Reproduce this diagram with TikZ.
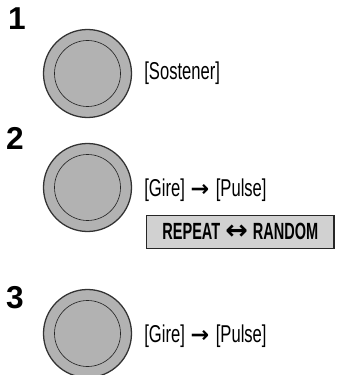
\documentclass[tikz,border=0pt]{standalone}
\usepackage{fontspec}
\setmainfont{Liberation Sans}
\newfontfamily\narrowfont[FakeStretch=0.68]{Liberation Sans}
\newfontfamily\narrowbold[FakeStretch=0.62]{Liberation Sans Bold}
\newfontfamily\arrowfont{DejaVu Sans}
\newcommand{\toarrow}{{\arrowfont\bfseries\fontsize{19}{19}\selectfont →}}
\newcommand{\botharrow}{{\arrowfont\bfseries\fontsize{23}{19}\selectfont ↔}}
\usetikzlibrary{positioning}

\begin{document}
\begin{tikzpicture}[
  x=0.03cm, y=-0.03cm,
  knob/.style={circle, draw=black!80, line width=1.1pt, fill=black!30,
               minimum size=2.64cm, inner sep=0pt},
  rim/.style={circle, draw=black!85, line width=0.55pt,
              minimum size=1.98cm, inner sep=0pt},
  stepnum/.style={anchor=base west, inner sep=0pt,
                  font=\fontsize{27}{27}\selectfont\bfseries},
  action/.style={anchor=west, inner sep=0pt,
                 font=\narrowfont\fontsize{20.8}{22}\selectfont},
  modebox/.style={rectangle, draw=black!85, line width=0.9pt, fill=black!18,
                  minimum width=5.62cm, minimum height=1cm, inner sep=0pt,
                  font=\narrowbold\fontsize{20}{20}\selectfont}
]
  \useasboundingbox (0,0) rectangle (337,375);
  \clip (0,0) rectangle (337,375);

  % step 1
  \node[stepnum] (n1) at (8,30) {1};
  \node[knob] (knob1) at (87.5,73.5) {};
  \node[rim] (rim1) at (knob1.center) {};
  \node[action, right=0.36cm of knob1] (hold) {[Sostener]};

  % step 2
  \node[stepnum] (n2) at (6,150) {2};
  \node[knob] (knob2) at (87.5,187.5) {};
  \node[rim] (rim2) at (knob2.center) {};
  \node[action, right=0.36cm of knob2, yshift=-0.08cm] (turn2)
    {[Gire]\hspace{0.17cm}\toarrow\hspace{0.2cm}[Pulse]};
  \node[modebox] (mode) at (240.3,231.7) {REPEAT\hspace{0.15cm}\botharrow\hspace{0.15cm}RANDOM};

  % step 3
  \node[stepnum] (n3) at (6,308) {3};
  \node[knob] (knob3) at (87.5,333.5) {};
  \node[rim] (rim3) at (knob3.center) {};
  \node[action, right=0.36cm of knob3, yshift=-0.08cm] (turn3)
    {[Gire]\hspace{0.17cm}\toarrow\hspace{0.2cm}[Pulse]};
\end{tikzpicture}
\end{document}
